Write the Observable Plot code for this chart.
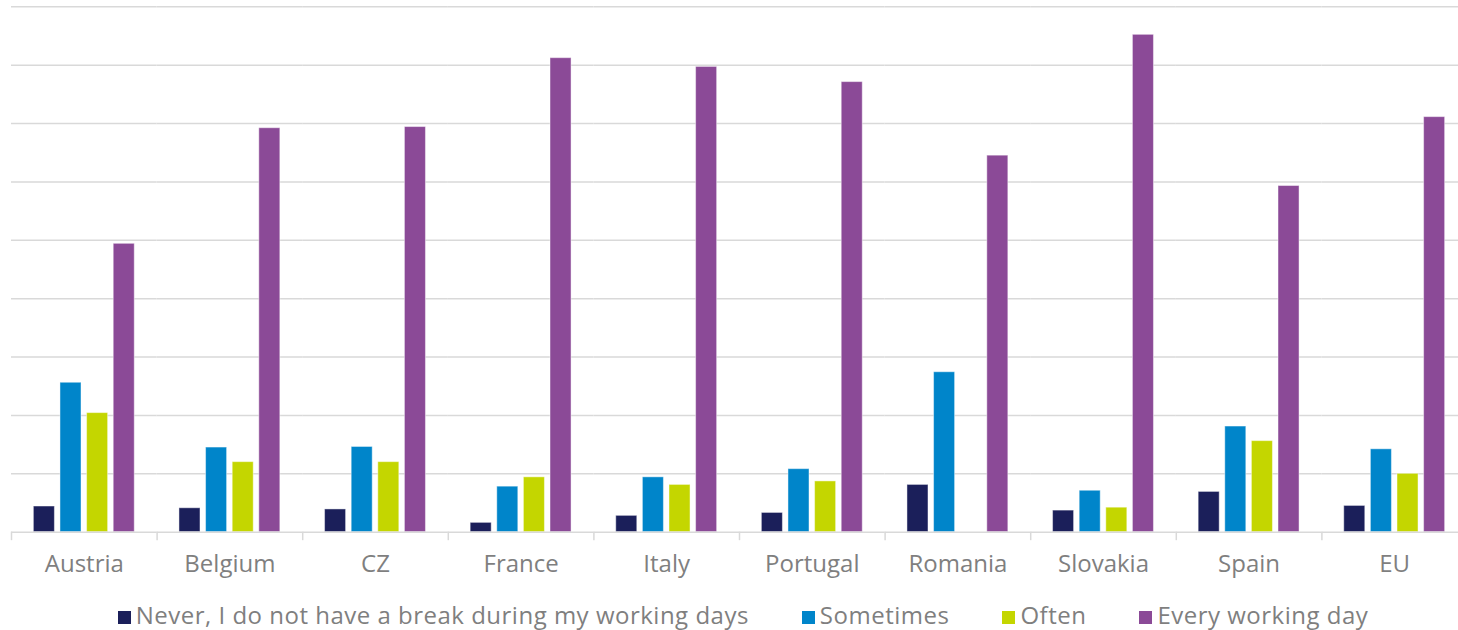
<!DOCTYPE html>
<html>
<head>
<meta charset="utf-8">
<script src="https://cdn.jsdelivr.net/npm/d3@7"></script>
<script src="https://cdn.jsdelivr.net/npm/@observablehq/plot@0.6"></script>
<style>
  html, body { margin: 0; padding: 0; background: #fff; overflow: hidden; }
  #chart { width: 1458px; }
  div.lg-swatches { justify-content: center; padding-left: 28px; margin-top: 8px; margin-bottom: 0; }
  div.lg-swatches .lg-swatch { margin-right: 53px; color: #7f7f7f; letter-spacing: 0.5px; }
  div.lg-swatches .lg-swatch:last-child { margin-right: 0; }
  div.lg-swatches .lg-swatch > svg { margin-right: 5px; margin-top: 6px; }
</style>
</head>
<body>
<div id="chart"></div>
<script>
// Share of workers taking a break, by country
const countries = ["Austria", "Belgium", "CZ", "France", "Italy", "Portugal", "Romania", "Slovakia", "Spain", "EU"];
const seriesNames = ["Never, I do not have a break during my working days", "Sometimes", "Often", "Every working day"];
const never     = [4.4, 4.1, 3.9, 1.6, 2.8, 3.3, 8.1, 3.7, 6.9, 4.5];
const sometimes = [25.6, 14.5, 14.6, 7.8, 9.4, 10.8, 27.4, 7.1, 18.1, 14.2];
const often     = [20.4, 12.0, 12.0, 9.4, 8.1, 8.7, 0, 4.2, 15.6, 10.0];
const everyDay  = [49.4, 69.2, 69.4, 81.2, 79.7, 77.1, 64.5, 85.2, 59.3, 71.1];
const gridTicks = [10, 20, 30, 40, 50, 60, 70, 80, 90];
const colors = ["#1b1f5a", "#0085ca", "#c4d600", "#8b4a97"];

const seriesValues = [never, sometimes, often, everyDay];
const data = countries.flatMap((country, i) =>
  seriesNames.map((series, s) => ({country, series, value: seriesValues[s][i]}))
);

// Layout of the faceted plot (the last category runs slightly past the right edge)
const width = 1458;
const height = 590;
const marginLeft = 11;
const marginRight = -9;
const facetWidth = (width - marginLeft - marginRight) / countries.length;
const xInner = d3.scaleBand(seriesNames, [0, facetWidth]).paddingInner(0.21).paddingOuter(0.84);
const tickOffset = -(xInner(seriesNames[0]) + xInner.bandwidth() / 2);

const font = "'Open Sans', Lato, sans-serif";

const chart = Plot.plot({
  width, height,
  marginLeft, marginRight,
  marginTop: 6.3,
  marginBottom: height - 531.7,
  style: {fontFamily: font, background: "#fff"},
  fx: {domain: countries, padding: 0, round: false, axis: null, label: null},
  x: {domain: seriesNames, paddingInner: 0.21, paddingOuter: 0.84, round: false, axis: null},
  y: {domain: [0, 90], axis: null},
  color: {domain: seriesNames, range: colors},
  marks: [
    Plot.ruleY(gridTicks, {stroke: "#d9d9d9", strokeWidth: 1.5}),
    Plot.barY(data, {
      fx: "country", x: "series", y: "value", fill: "series",
      stroke: "#ffffff", strokeOpacity: 0.45, strokeWidth: 1
    }),
    Plot.ruleY([0], {stroke: "#d9d9d9", strokeWidth: 1.5}),
    // category separators below the baseline
    Plot.ruleX(countries, {
      fx: d => d, x: () => seriesNames[0], y1: 0, y2: 0,
      dx: tickOffset, insetBottom: -8.5, stroke: "#d9d9d9", strokeWidth: 1.5
    }),
    Plot.text(countries, {
      fx: d => d, text: d => d, frameAnchor: "bottom", lineAnchor: "bottom",
      dy: 40, fontSize: 24, fill: "#7f7f7f", style: "letter-spacing: 0.3px"
    })
  ]
});

const legend = chart.legend("color", {
  className: "lg",
  swatchSize: 13,
  style: {fontFamily: font, fontSize: "24px", color: "#7f7f7f"}
});

const root = document.getElementById("chart");
root.appendChild(chart);
root.appendChild(legend);
</script>
</body>
</html>
